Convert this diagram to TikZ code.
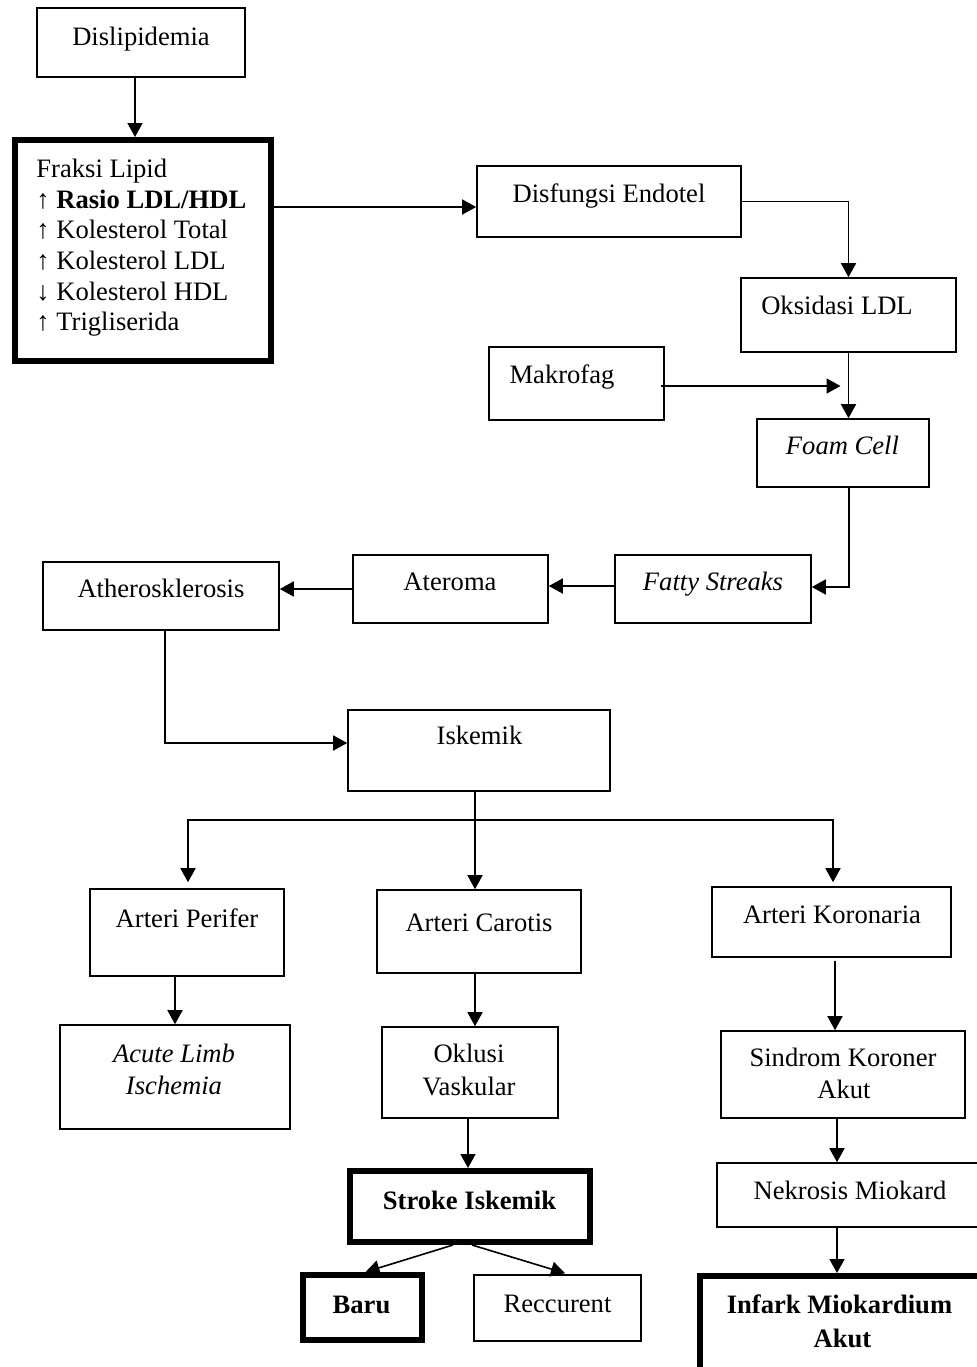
\documentclass[tikz,border=0pt]{standalone}
\usepackage{fontspec}
\setmainfont{Liberation Serif}
\usetikzlibrary{arrows.meta,calc,fit}
\begin{document}
\begin{tikzpicture}[x=0.5pt,y=-0.5pt,
  box/.style={draw, line width=0.8pt, inner sep=0pt},
  tbox/.style={draw, line width=3pt, inner sep=0pt},
  lbl/.style={anchor=base, inner sep=0pt, font=\fontsize{13.3}{15.5}\selectfont},
  lblw/.style={lbl, anchor=base west},
  arr/.style={line width=0.8pt, -{Triangle[length=7pt,width=7.5pt]}}]
\useasboundingbox (0,0) rectangle (977,1367);
\fill[white] (0,0) rectangle (977,1367);
\clip (0,0) rectangle (977,1367);

% boxes
\node[box, fit={(37,8)(245,77)}] (dis) {};
\node[tbox, fit={(15,140)(271,361)}] (frak) {};
\node[box, fit={(477,166)(741,237)}] (disf) {};
\node[box, fit={(741,278)(956,352)}] (oks) {};
\node[box, fit={(489,347)(664,420)}] (mak) {};
\node[box, fit={(757,419)(929,487)}] (foam) {};
\node[box, fit={(615,555)(811,623)}] (fatty) {};
\node[box, fit={(353,555)(548,623)}] (ater) {};
\node[box, fit={(43,562)(279,630)}] (ath) {};
\node[box, fit={(348,710)(610,791)}] (isk) {};
\node[box, fit={(90,889)(284,976)}] (per) {};
\node[box, fit={(377,890)(581,973)}] (car) {};
\node[box, fit={(712,887)(951,957)}] (kor) {};
\node[box, fit={(60,1025)(290,1129)}] (alm) {};
\node[box, fit={(382,1027)(558,1118)}] (okl) {};
\node[box, fit={(721,1031)(965,1118)}] (skr) {};
\node[tbox, fit={(350,1171)(590,1242)}] (str) {};
\node[tbox, fit={(303,1275)(422,1340)}] (baru) {};
\node[box, fit={(474,1275)(641,1341)}] (rec) {};
\node[box, fit={(717,1163)(990,1227)}] (nek) {};
\node[tbox, fit={(700,1276)(1000,1390)}] (inf) {};

% labels
\node[lbl] (tdis) at (141,45) {Dislipidemia};
\node[lblw] (f1) at (36,177) {Fraksi Lipid};
\node[lblw] (f2) at (36,208) {↑ \bfseries Rasio LDL/HDL};
\node[lblw] (f3) at (36,238) {↑ Kolesterol Total};
\node[lblw] (f4) at (36,269) {↑ Kolesterol LDL};
\node[lblw] (f5) at (36,300) {↓ Kolesterol HDL};
\node[lblw] (f6) at (36,330) {↑ Trigliserida};
\node[lbl] (tdisf) at (609,202) {Disfungsi Endotel};
\node[lbl] (toks) at (837,314) {Oksidasi LDL};
\node[lbl] (tmak) at (562,383) {Makrofag};
\node[lbl] (tfoam) at (842.5,454) {\itshape Foam Cell};
\node[lbl] (tfat) at (713,590) {\itshape Fatty Streaks};
\node[lbl] (tath) at (161,597) {Atherosklerosis};
\node[lbl] (tater) at (450,590) {Ateroma};
\node[lbl] (tisk) at (479.5,744) {Iskemik};
\node[lbl] (tper) at (187,927) {Arteri Perifer};
\node[lbl] (tcar) at (479,931) {Arteri Carotis};
\node[lbl] (tkor) at (832,923) {Arteri Koronaria};
\node[lbl] (talm1) at (174,1062) {\itshape Acute Limb};
\node[lbl] (talm2) at (174,1094) {\itshape Ischemia};
\node[lbl] (tokl1) at (469,1062) {Oklusi};
\node[lbl] (tokl2) at (469,1095) {Vaskular};
\node[lbl] (tskr1) at (843,1066) {Sindrom Koroner};
\node[lbl] (tskr2) at (844,1098) {Akut};
\node[lbl] (tstr) at (469.5,1209) {\bfseries Stroke Iskemik};
\node[lbl] (tbaru) at (361.5,1313) {\bfseries Baru};
\node[lbl] (trec) at (557.5,1312) {Reccurent};
\node[lbl] (tnek) at (850,1199) {Nekrosis Miokard};
\node[lbl] (tinf1) at (839.5,1313) {\bfseries Infark Miokardium};
\node[lbl] (tinf2) at (842.5,1347) {\bfseries Akut};

% connectors
\draw[arr] ($(dis.south)+(-6,0)$) -- ($(dis.south |- frak.north)+(-6,0)$);
\coordinate (c2) at ($(disf.west)+(0,5.5)$);
\draw[arr] (frak.east |- c2) -- (c2);
\draw[arr] (disf.east) -| (oks.north);
\draw[arr] (oks.south) -- (oks.south |- foam.north);
\coordinate (m1) at ($(mak.east)+(-4,2.5)$);
\coordinate (m2) at ($(m1 -| oks.south)+(-8,0)$);
\draw[arr] (m1) -- (m2);
\coordinate (fc) at ($(foam.south)+(6,0)$);
\draw[arr] (fc) |- ($(fatty.east)+(0,-2)$);
\draw[arr] ($(fatty.west)+(0,-3)$) -- ($(ater.east)+(0,-3)$);
\draw[arr] (ater.west) -- (ater.west -| ath.east);
\coordinate (a1) at ($(ath.south)+(-22,-1)$);
\coordinate (a2) at ($(ath.south)+(4,-1)$);
\draw[arr] (a1) -- (a2) |- ($(isk.west)+(0,-7.5)$);
\coordinate (vx) at ($(isk.south)+(-4,0)$);
\coordinate (br) at ($(vx)+(0,28)$);
\draw[arr] (vx) -- (vx |- car.north);
\draw[arr] (br) -| ($(per.north)+(1,-6)$);
\draw[arr] (br) -| ($(kor.north)+(1.5,-4)$);
\draw[arr] (alm.north |- per.south) -- (alm.north);
\draw[arr] ($(car.south)+(-4,0)$) -- ($(car.south |- okl.north)+(-4,0)$);
\draw[arr] ($(kor.south)+(3.5,3)$) -- ($(kor.south |- skr.north)+(3.5,0)$);
\draw[arr] ($(okl.south)+(-2,0)$) -- ($(okl.south |- str.north)+(-2,0)$);
\draw[arr] ($(str.south)+(-17,0)$) -- ($(baru.north)+(3,0)$);
\draw[arr] ($(str.south)+(2,0)$) -- ($(rec.north)+(7.5,-1)$);
\coordinate (sx) at ($(skr.south)+(-6,0)$);
\draw[arr] (sx) -- (sx |- nek.north);
\draw[arr] (sx |- nek.south) -- (sx |- inf.north);
\end{tikzpicture}
\end{document}
